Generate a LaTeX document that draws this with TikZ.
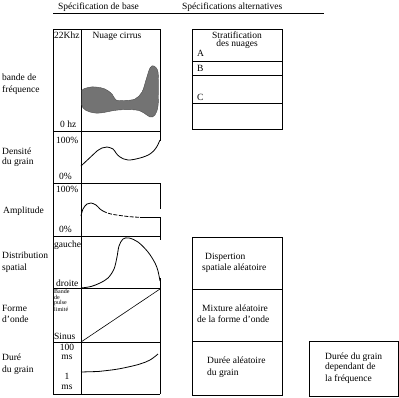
\documentclass[tikz,border=0pt]{standalone}
\usepackage{fontspec}
\setmainfont{Liberation Serif}
\tikzset{
  txt/.style={font=\fontsize{9.5}{11}\selectfont, inner sep=0pt, anchor=base west},
  ctxt/.style={txt, anchor=base},
  small/.style={font=\fontsize{6}{7}\selectfont, inner sep=0pt, anchor=base west},
  frame/.style={line width=0.9pt},
  curve/.style={line width=0.8pt},
  thincurve/.style={line width=0.6pt},
  cloud/.style={fill=black!55, draw=black!70, line width=0.4pt},
}
\begin{document}
\begin{tikzpicture}[x=1pt,y=-1pt]
\useasboundingbox (0,0) rectangle (399,397);

% headers
\node[txt] (h1) at (58,9) {Spécification de base};
\node[txt] (h2) at (182,9) {Spécifications alternatives};
\draw[frame] (53,13) -- (324,13);

% left table frame
\draw[frame] (53,29) -- (160,29);
\draw[frame] (53,29) -- (53,394);
\draw[frame] (81,29) -- (81,394);
\foreach \yy in {131,183,236,288,342,394} \draw[frame] (53,\yy) -- (160,\yy);
\draw[frame] (160,29) -- (160,141);
\draw[frame] (160,183) -- (160,209);
\draw[frame] (160,217) -- (160,236);
\draw[frame] (160,236) -- (160,240);
\draw[frame] (160,278) -- (160,288);
\draw[frame] (160,288) -- (160,394);

% row labels
\node[txt] (l1a) at (2,80) {bande de};
\node[txt] (l1b) at (2,92) {fréquence};
\node[txt] (l2a) at (2,154) {Densité};
\node[txt] (l2b) at (2,164) {du grain};
\node[txt] (l3) at (3,213) {Amplitude};
\node[txt] (l4a) at (2,258) {Distribution};
\node[txt] (l4b) at (2,270) {spatial};
\node[txt] (l5a) at (2,311) {Forme};
\node[txt] (l5b) at (2,322) {d'onde};
\node[txt] (l6a) at (2,360) {Duré};
\node[txt] (l6b) at (2,372) {du grain};

% axis labels
\node[txt] (a1t) at (54,38) {22Khz};
\node[txt] (a1b) at (60,127) {0 hz};
\node[ctxt] (cir) at (117,38) {Nuage cirrus};
\node[txt] (a2t) at (56,143) {100\%};
\node[txt] (a2b) at (59,179) {0\%};
\node[txt] (a3t) at (56,192) {100\%};
\node[txt] (a3b) at (59,232) {0\%};
\node[txt] (a4t) at (54,247) {gauche};
\node[txt] (a4b) at (56,286) {droite};
\node[small] (a5a) at (54,293.5) {Bande};
\node[small] (a5b) at (54,299) {de};
\node[small] (a5c) at (54,304.5) {pulse};
\node[small] (a5d) at (54,311) {limité};
\node[txt] (a5e) at (54,339) {Sinus};
\node[ctxt] (a6a) at (67,350) {100};
\node[ctxt] (a6b) at (67,359) {ms};
\node[ctxt] (a6c) at (67,379) {1};
\node[ctxt] (a6d) at (67,389) {ms};

% cloud
\begin{scope}
\clip (81.5,30) rectangle (159.5,130);
\path[cloud] plot[smooth cycle, tension=0.6] coordinates {
  (81,91) (88,87.5) (96,87) (105,89) (112,94) (116,100) (124,100.5) (135,99)
  (142,92) (146,80) (150,68) (154,66) (158,72) (158.5,90) (158,106) (155,115)
  (150,117) (144,113) (136,110) (118,110) (100,113) (90,112) (83,108) (81,100)};
\end{scope}

% density
\draw[curve] (81,166) -- (97,151) plot[smooth, tension=0.6] coordinates {
  (97,151) (102,148) (107,147) (113,149) (116,153) (120,157) (128,160) (140,158)
  (150,154) (156,148) (160,140)};

% amplitude
\draw[curve] plot[smooth, tension=0.6] coordinates {
  (81,216) (83,209) (87,204) (91,203) (96,205) (100,209) (103,211)};
\draw[curve, dash pattern=on 4pt off 1.5pt] plot[smooth, tension=0.6] coordinates {
  (103,211) (111,214) (128,216.5) (140,217.3)};
\draw[curve] (140,217.3) -- (160,217.3);

% distribution
\draw[curve] plot[smooth, tension=0.55] coordinates {
  (81,288) (91,286.5) (100,283) (108,278) (114,269) (117,257) (119,246)
  (123,239) (129,238) (138,242) (148,252) (155,263) (158,271) (160,281)};

% waveform
\draw[thincurve] (81,342) -- (160,289);

% duration
\draw[curve] (81,372) -- (98,371.5) plot[smooth, tension=0.6] coordinates {
  (98,371.5) (115,369.5) (128,367) (140,364) (150,360) (158,354)};

% right upper table
\draw[frame] (192,29) rectangle (282,129);
\foreach \yy in {61,75,103} \draw[frame] (192,\yy) -- (282,\yy);
\node[ctxt] (s1) at (237,38) {Stratification};
\node[ctxt] (s2) at (237,46) {des nuages};
\node[txt] (sA) at (197,56) {A};
\node[txt] (sB) at (197,71) {B};
\node[txt] (sC) at (197,100) {C};

% right lower table
\draw[frame] (192,237) rectangle (282,395);
\foreach \yy in {289,341} \draw[frame] (192,\yy) -- (282,\yy);
\node[txt] (d1) at (205,259) {Dispertion};
\node[txt] (d2) at (202,270) {spatiale aléatoire};
\node[txt] (m1) at (202,311) {Mixture aléatoire};
\node[txt] (m2) at (197,322) {de la forme d'onde};
\node[txt] (r1) at (207,363) {Durée aléatoire};
\node[txt] (r2) at (207,375) {du grain};

% far right box
\draw[frame] (309,341) rectangle (398,396);
\node[txt] (f1) at (325,359) {Durée du grain};
\node[txt] (f2) at (325,369) {dependant de};
\node[txt] (f3) at (325,381) {la fréquence};
\end{tikzpicture}
\end{document}
